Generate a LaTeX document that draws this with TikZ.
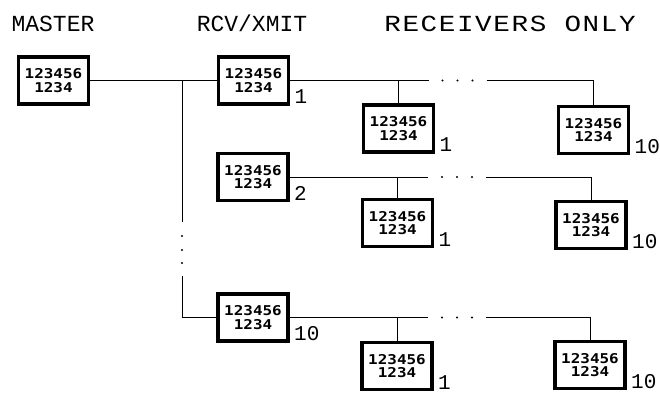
\documentclass[tikz,border=0pt]{standalone}
\usepackage{fontspec}
\setmainfont{Liberation Mono}
\newfontfamily\boxfont[FakeStretch=1.18]{DejaVu Sans Mono}
\newfontfamily\widefont[FakeStretch=1.2,LetterSpace=7]{Liberation Mono}
\begin{document}
\begin{tikzpicture}[x=1pt,y=-1pt,
  unit/.style={draw, line width=3.2pt, minimum width=70pt, minimum height=47pt, inner sep=0pt, outer sep=0pt, align=center, font=\boxfont\bfseries\fontsize{13.5}{13.5}\selectfont},
  wire/.style={line width=0.9pt},
  dot/.style={circle, fill, inner sep=0pt, minimum size=2.4pt},
  title/.style={font=\fontsize{23}{23}\selectfont, anchor=base, inner sep=0pt},
  num/.style={font=\fontsize{21}{21}\selectfont, anchor=south west, inner sep=0pt}
]
\useasboundingbox (0,0) rectangle (660,393);
% titles
\node[title] (t1) at (53,32) {MASTER};
\node[title] (t2) at (252,32) {RCV/XMIT};
\node[title, font=\widefont\fontsize{23}{23}\selectfont] (t3) at (510,32) {RECEIVERS ONLY};
% units
\node[unit] (m)   at (53.5,80.5) {123456\\1234};
\node[unit] (r1)  at (253.5,80.5) {123456\\1234};
\node[unit] (r2)  at (253,177) {123456\\1234};
\node[unit] (r10) at (253,317.5) {123456\\1234};
\node[unit] (a1)  at (398.5,128.5) {123456\\1234};
\node[unit] (a10) at (593.5,130) {123456\\1234};
\node[unit] (b1)  at (397.5,223) {123456\\1234};
\node[unit] (b10) at (591,225) {123456\\1234};
\node[unit] (c1)  at (397,366) {123456\\1234};
\node[unit] (c10) at (590,365) {123456\\1234};
% number labels
\node[num] (lr1)  at ([xshift=6pt]r1.south east) {1};
\node[num] (lr2)  at ([xshift=6pt]r2.south east) {2};
\node[num] (lr10) at ([xshift=6pt]r10.south east) {10};
\node[num] (la1)  at ([xshift=6pt]a1.south east) {1};
\node[num] (la10) at ([xshift=6pt]a10.south east) {10};
\node[num] (lb1)  at ([xshift=6pt]b1.south east) {1};
\node[num] (lb10) at ([xshift=6pt]b10.south east) {10};
\node[num] (lc1)  at ([xshift=6pt]c1.south east) {1};
\node[num] (lc10) at ([xshift=6pt]c10.south east) {10};
% master bus
\coordinate (j)  at (182,80.5);
\coordinate (v1) at (182,222);
\coordinate (v2) at (182,276);
\draw[wire] (m) -- (r1);
\draw[wire] (j) -- (v1);
\node[dot] (vd1) at (182,236) {};
\node[dot] (vd2) at (182,250) {};
\node[dot] (vd3) at (182,263) {};
\draw[wire] (v2) |- (r10.west);
% row buses
\foreach \r/\a/\b in {r1/a1/a10, r2/b1/b10, r10/c1/c10} {
  \coordinate (\r e) at ([xshift=140pt]\r.east);
  \coordinate (\r s) at ([xshift=198pt]\r.east);
  \draw[wire] (\r.east) -- (\r e);
  \draw[wire] (\r s) -| (\b.north);
  \draw[wire] (\a.north) -- (\a.north |- \r.east);
  \node[dot] at ([xshift=154pt]\r.east) {};
  \node[dot] at ([xshift=169pt]\r.east) {};
  \node[dot] at ([xshift=184pt]\r.east) {};
}
\end{tikzpicture}
\end{document}
